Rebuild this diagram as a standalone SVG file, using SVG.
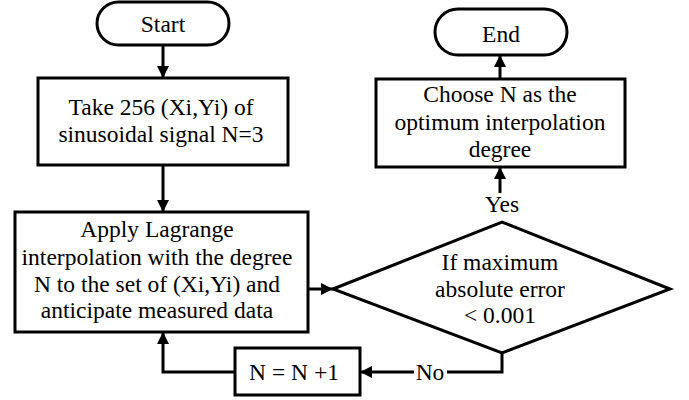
<svg xmlns="http://www.w3.org/2000/svg" width="689" height="400" viewBox="0 0 689 400" font-family="Liberation Serif, serif">
<style>
.s{fill:#fff;stroke:#000;stroke-width:3}
text{font-family:"Liberation Serif",serif;font-size:23.5px;fill:#000;text-anchor:middle}
.c{fill:none;stroke:#000;stroke-width:3}
</style>
<defs>
<marker id="a" viewBox="0 0 10 10" refX="10" refY="5" markerWidth="4" markerHeight="4" orient="auto" markerUnits="strokeWidth">
<path d="M0,0 L10,5 L0,10 z" fill="#000"/>
</marker>
</defs>
<rect width="689" height="400" fill="#fff"/>
<g id="start"><rect class="s" x="97" y="2" width="132" height="43" rx="21.5"/><text x="163" y="32">Start</text></g>
<g id="take"><rect class="s" x="38" y="78" width="250" height="87"/><text x="161" y="115">Take 256 (Xi,Yi) of</text><text x="161" y="142">sinusoidal signal N=3</text></g>
<g id="apply"><rect class="s" x="15" y="212" width="293" height="120"/><text x="157" y="237">Apply Lagrange</text><text x="157" y="265">interpolation with the degree</text><text x="157" y="292">N to the set of (Xi,Yi) and</text><text x="157" y="318">anticipate measured data</text></g>
<g id="decision"><polygon class="s" points="333,289 502,222 670,289 502,353"/><text x="500" y="270">If maximum</text><text x="500" y="297">absolute error</text><text x="500" y="323">&lt; 0.001</text></g>
<g id="choose"><rect class="s" x="376" y="79" width="249" height="88"/><text x="500" y="102">Choose N as the</text><text x="500" y="130">optimum interpolation</text><text x="500" y="157">degree</text></g>
<g id="end"><rect class="s" x="435" y="9" width="132" height="46" rx="23"/><text x="501" y="42">End</text></g>
<g id="inc"><rect class="s" x="235" y="348" width="125" height="47"/><text x="294" y="380">N = N +1</text></g>
<g id="connectors">
<line class="c" x1="163" y1="45" x2="163" y2="78" marker-end="url(#a)"/>
<line class="c" x1="163" y1="165" x2="163" y2="212" marker-end="url(#a)"/>
<line class="c" x1="308" y1="289" x2="333" y2="289" marker-end="url(#a)"/>
<line class="c" x1="500" y1="193" x2="500" y2="167" marker-end="url(#a)"/>
<line class="c" x1="500" y1="79" x2="500" y2="55" marker-end="url(#a)"/>
<polyline class="c" points="502,353 502,372 447,372"/>
<line class="c" x1="414" y1="372" x2="360" y2="372" marker-end="url(#a)"/>
<polyline class="c" points="235,372 163,372 163,332" marker-end="url(#a)"/>
<text x="502" y="212">Yes</text>
<text x="430" y="380">No</text>
</g>
</svg>
